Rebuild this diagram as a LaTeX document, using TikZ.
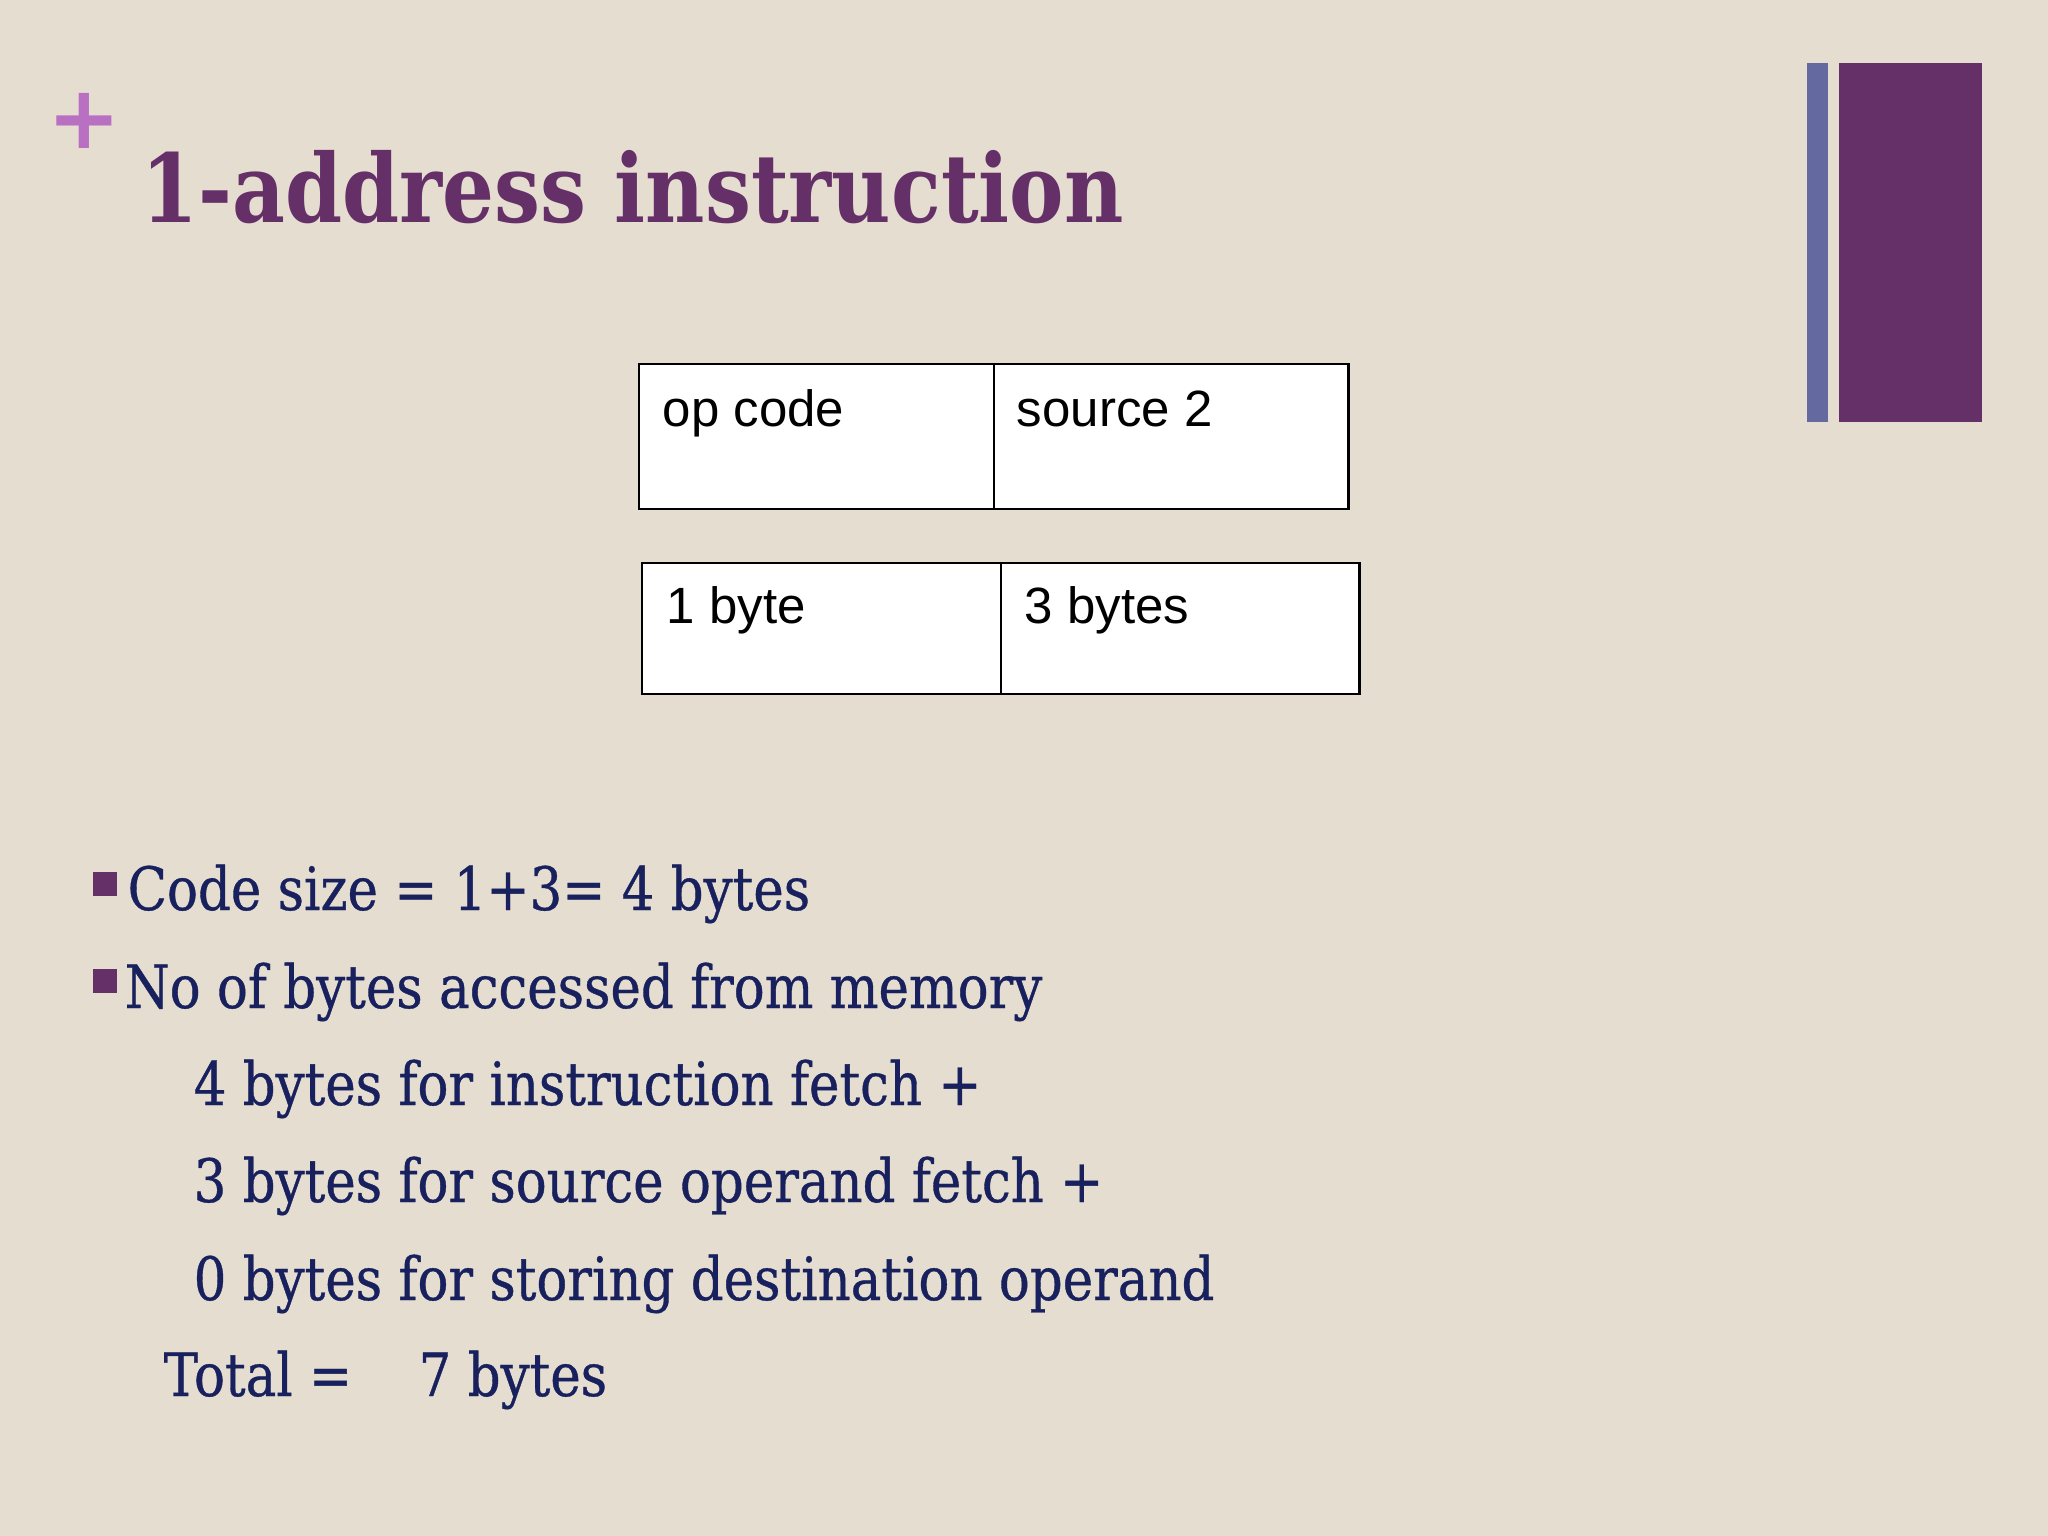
\documentclass[tikz,border=0pt]{standalone}
\usepackage{fontspec}
\setmainfont{DejaVu Serif}
\newfontfamily\titlefont[FakeStretch=0.86]{DejaVu Serif Bold}
\newfontfamily\slidefont[FakeStretch=0.86,FakeBold=0.6]{DejaVu Serif}
\newfontfamily\boxfont{Liberation Sans}
\newfontfamily\plusfont{DejaVu Sans}
\usepackage{tikz}
\usetikzlibrary{positioning,calc}
\definecolor{paper}{RGB}{229,221,208}
\definecolor{plum}{RGB}{101,48,104}
\definecolor{orchid}{RGB}{185,112,195}
\definecolor{slate}{RGB}{100,106,160}
\definecolor{navy}{RGB}{24,33,94}
\tikzset{
  field/.style={draw=black,fill=white,line width=0.7pt,inner sep=0pt,outer sep=0pt,anchor=north west},
  fieldtext/.style={anchor=base west,inner sep=0pt,font=\boxfont\fontsize{14.5}{17}\selectfont},
  line/.style={anchor=base west,inner sep=0pt,text=navy,font=\slidefont\fontsize{17}{20}\selectfont},
  bullet/.style={fill=plum,minimum size=0.24cm,inner sep=0pt}
}
\begin{document}
\begin{tikzpicture}[x=0.01cm,y=-0.01cm]
    \fill[paper] (0,0) rectangle (2048,1536);
    % side bars
    \fill[slate] (1807,63) rectangle (1828,422);
    \fill[plum] (1839,63) rectangle (1982,422);
    % title
    \node[anchor=base,inner sep=0pt,text=orchid,font=\plusfont\bfseries\fontsize{25}{30}\selectfont] (plus) at (84,148) {+};
    \node[anchor=base west,inner sep=0pt,text=plum,font=\titlefont\fontsize{27}{32}\selectfont] (title) at (141,222) {1-address instruction};
    % instruction format
    \node[field,minimum width=3.55cm,minimum height=1.45cm] (opcode) at (639,364) {};
    \node[field,minimum width=3.54cm,minimum height=1.45cm] (src) at (opcode.north east) {};
    \node[field,minimum width=3.59cm,minimum height=1.31cm] (opsize) at (642,563) {};
    \node[field,minimum width=3.58cm,minimum height=1.31cm] (srcsize) at (opsize.north east) {};
    \node[fieldtext] (opcodetxt) at ($(opcode.north west)+(23,62)$) {op code};
    \node[fieldtext] (srctxt) at ($(src.north west)+(22,62)$) {source 2};
    \node[fieldtext] (opsizetxt) at ($(opsize.north west)+(24,60)$) {1 byte};
    \node[fieldtext] (srcsizetxt) at ($(srcsize.north west)+(23,60)$) {3 bytes};
    % counts
    \node[bullet] (b1) at (105,884) {};
    \node[bullet] (b2) at (105,981) {};
    \node[line] (size) at (127,910) {Code size = 1+3= 4 bytes};
    \node[line] (access) at (124,1008) {No of bytes accessed from memory};
    \node[line] (fetch) at (193,1105) {4 bytes for instruction fetch +};
    \node[line] (source) at (193,1202) {3 bytes for source operand fetch +};
    \node[line] (store) at (193,1300) {0 bytes for storing destination operand};
    \node[line] (total) at (163,1396) {Total =};
    \node[line] (sum) at (418,1396) {7 bytes};
\end{tikzpicture}
\end{document}
